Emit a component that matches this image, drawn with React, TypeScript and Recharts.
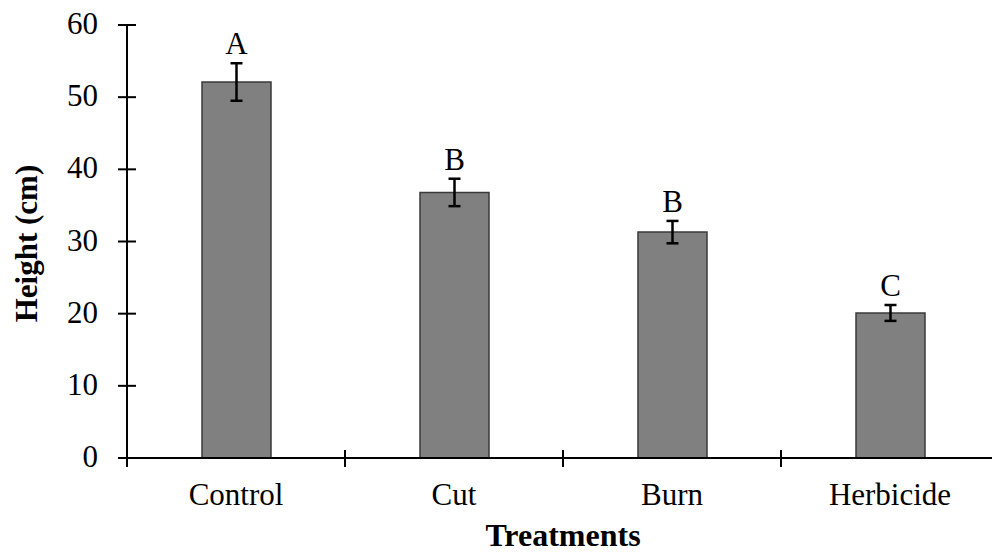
import React from 'react';
import { BarChart, Bar, XAxis, YAxis, ErrorBar, LabelList, Label } from 'recharts';

const treatments = ['Control', 'Cut', 'Burn', 'Herbicide'];
const heights = [52.1, 36.8, 31.3, 20.1];
const errors = [2.6, 1.9, 1.55, 1.1];
const letters = ['A', 'B', 'B', 'C'];
const yTicks = [0, 10, 20, 30, 40, 50, 60];

const data = treatments.map((t, i) => ({ name: t, height: heights[i], err: errors[i], letter: letters[i] }));

const W = 992;
const H = 554;
const LEFT = 127;
const RIGHT_MARGIN = -7;
const TOP = 25;
const XAXIS_H = 96;
const FONT = '"Liberation Serif", "Times New Roman", serif';
const FS = 31;
const PLOT_W = W - LEFT - RIGHT_MARGIN;
const HALF_BAND = PLOT_W / treatments.length / 2;

const YTick = (props: any) => {
  const { x, y, payload } = props;
  return (
    <g>
      <line x1={x - 9} x2={x + 9} y1={y} y2={y} stroke="#000" strokeWidth={2} />
      <text x={x - 29} y={y} dy={9} textAnchor="end" fontFamily={FONT} fontSize={FS} fill="#000">
        {payload.value}
      </text>
    </g>
  );
};

const XTick = (props: any) => {
  const { x, y, payload, index } = props;
  return (
    <g>
      {index === 0 && (
        <line x1={x - HALF_BAND} x2={x - HALF_BAND} y1={y - 8} y2={y + 9} stroke="#000" strokeWidth={2} />
      )}
      <line x1={x + HALF_BAND} x2={x + HALF_BAND} y1={y - 8} y2={y + 9} stroke="#000" strokeWidth={2} />
      <text x={x} y={y + 47} textAnchor="middle" fontFamily={FONT} fontSize={FS} fill="#000">
        {payload.value}
      </text>
    </g>
  );
};

const LetterLabel = (props: any) => {
  const { x, y, width, height, index, value } = props;
  const h = Number(height);
  const v = heights[index];
  const errPx = (errors[index] * h) / v;
  const top = Number(y) - errPx;
  return (
    <text x={Number(x) + Number(width) / 2} y={top - 9} textAnchor="middle" fontFamily={FONT} fontSize={FS} fill="#000">
      {value}
    </text>
  );
};

export default function App() {
  return (
    <div style={{ position: 'absolute', left: 0, top: 0, width: W, height: H, background: '#fff' }}>
      <BarChart
        width={W}
        height={H}
        data={data}
        margin={{ top: TOP, right: RIGHT_MARGIN, left: 0, bottom: 0 }}
        barCategoryGap={0}
      >
        <XAxis
          dataKey="name"
          height={XAXIS_H}
          tickSize={0}
          tickMargin={0}
          tick={<XTick />}
          axisLine={{ stroke: '#000', strokeWidth: 2 }}
          tickLine={false}
          interval={0}
        >
          <Label
            content={(p: any) => {
              const vb = p.viewBox;
              return (
                <text x={vb.x + vb.width / 2} y={vb.y + 88} textAnchor="middle" fontFamily={FONT} fontSize={32} fontWeight="bold" fill="#000">
                  Treatments
                </text>
              );
            }}
          />
        </XAxis>
        <YAxis
          width={LEFT}
          domain={[0, 60]}
          ticks={yTicks}
          tickSize={0}
          tickMargin={0}
          tick={<YTick />}
          axisLine={{ stroke: '#000', strokeWidth: 2 }}
          tickLine={false}
          interval={0}
        >
          <Label
            content={(p: any) => {
              const vb = p.viewBox;
              const cx = vb.x + 27;
              const cy = vb.y + vb.height / 2 + 2;
              return (
                <text x={cx} y={cy} transform={`rotate(-90 ${cx} ${cy})`} dy={10} textAnchor="middle" fontFamily={FONT} fontSize={FS} fontWeight="bold" fill="#000">
                  Height (cm)
                </text>
              );
            }}
          />
        </YAxis>
        <Bar dataKey="height" fill="#808080" stroke="#3a3a3a" strokeWidth={1.5} barSize={69} isAnimationActive={false}>
          <ErrorBar dataKey="err" width={6} stroke="#000" strokeWidth={2.5} direction="y" />
          <LabelList dataKey="letter" content={<LetterLabel />} />
        </Bar>
      </BarChart>
    </div>
  );
}
